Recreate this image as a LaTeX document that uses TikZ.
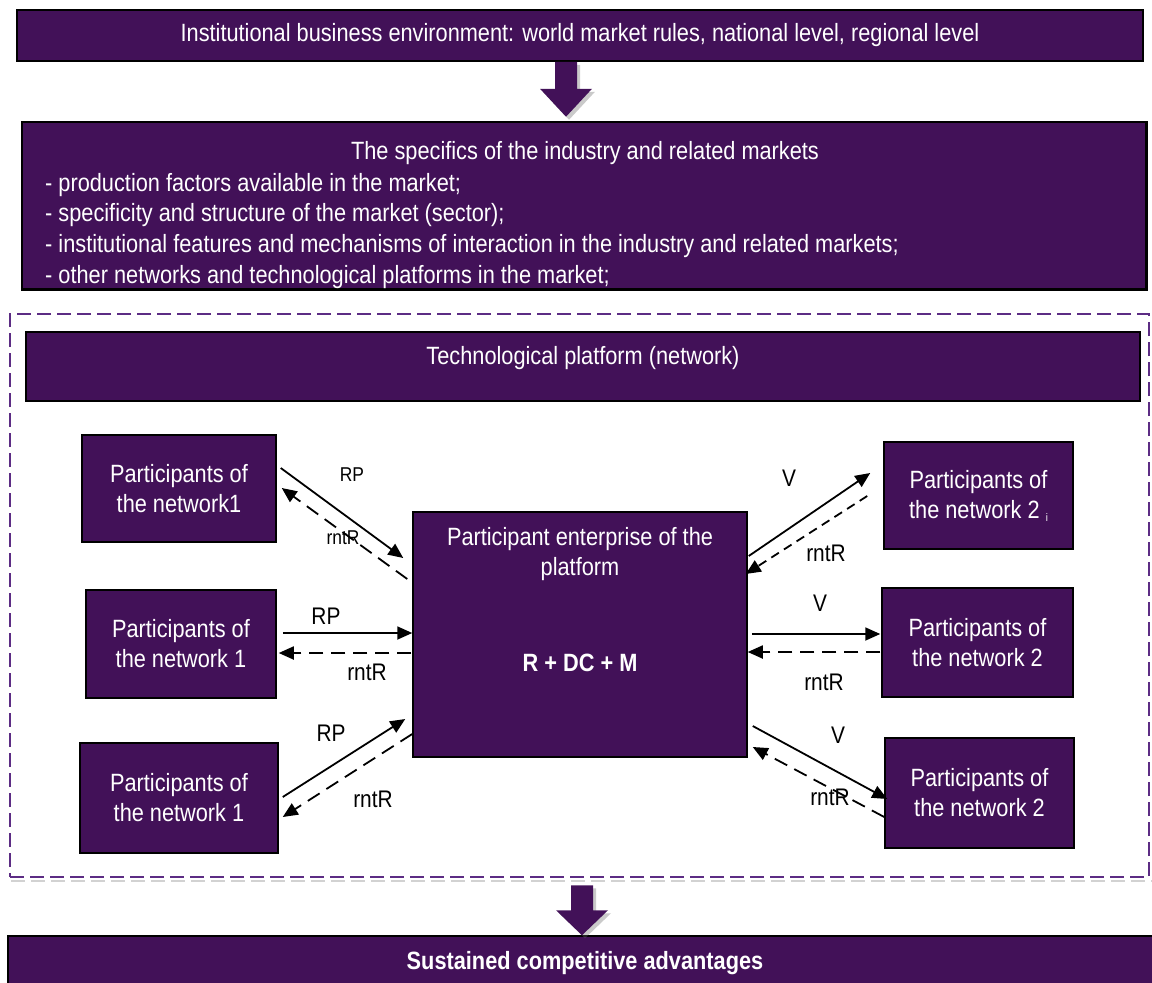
\documentclass[tikz,border=0pt]{standalone}
\usepackage{fontspec}
\setmainfont{Liberation Sans}[FakeStretch=0.87]
\usetikzlibrary{arrows.meta,calc,shadows}
\definecolor{purp}{RGB}{66,17,88}
\definecolor{dashpurp}{RGB}{92,44,132}
\newcommand\mainsz{\fontsize{25}{30}\selectfont}
\newcommand\lblsz{\fontsize{24}{28}\selectfont}
\newcommand\smlsz{\fontsize{20}{24}\selectfont}
\begin{document}
\begin{tikzpicture}[x=1pt,y=-1pt,
  box/.style={draw=black, line width=1.5pt, fill=purp, text=white, inner sep=0pt, align=center, font=\mainsz},
  txt/.style={text=white, inner sep=0pt, font=\mainsz, align=center},
  lbl/.style={text=black, inner sep=0pt, font=\lblsz},
  slbl/.style={text=black, inner sep=0pt, font=\smlsz},
  solidarr/.style={line width=1.8pt, -{Triangle[length=15pt,width=13pt]}},
  dasharr/.style={line width=1.8pt, dash pattern=on 14pt off 8pt, -{Triangle[length=15pt,width=13pt]}},
  shortdash/.style={line width=1.8pt, dash pattern=on 9pt off 6pt, -{Triangle[length=15pt,width=13pt]}},
  frame/.style={draw=dashpurp, line width=1.6pt, dash pattern=on 14pt off 6pt, inner sep=0pt},
  blockarrow/.style={fill=purp, drop shadow={shadow xshift=3pt, shadow yshift=-3pt, opacity=0.35, fill=black!60}}
]
\useasboundingbox (0,0) rectangle (1152,983);

% top box
\node[box, minimum width=1126pt, minimum height=51pt] (top) at (580,35.5)
  {Institutional business environment: world market rules, national level, regional level};

% specifics box
\node[box, minimum width=1124pt, minimum height=167pt] (spec) at (584,205.5) {};
\begin{scope}
\clip (spec.south west) rectangle (spec.north east);
\node[txt, anchor=base] (spectitle) at (585,159) {The specifics of the industry and related markets};
\node[txt, anchor=base west] (b1) at (45,191) {- production factors available in the market;};
\node[txt, anchor=base west] (b2) at (45,221.5) {- specificity and structure of the market (sector);};
\node[txt, anchor=base west] (b3) at (45,252) {- institutional features and mechanisms of interaction in the industry and related markets;};
\node[txt, anchor=base west] (b4) at (45,283) {- other networks and technological platforms in the market;};
\end{scope}
\draw[line width=1.5pt] (spec.south west) rectangle (spec.north east);

% block arrow 1
\path[blockarrow] ($(top.south)+(-25,0)$) -- ++(22,0) -- ++(0,27) -- ++(15,0) -- ++(-26,28) -- ++(-26,-28) -- ++(15,0) -- cycle;

% dashed frame
\node[frame, minimum width=1139pt, minimum height=563pt] (frame) at (579.5,595.5) {};
\draw[black!35, line width=2.5pt, opacity=0.5, dash pattern=on 14pt off 6pt]
  ($(frame.south west)+(2,3)$) -- ($(frame.south east)+(2,3)$);

% technological platform
\node[box, minimum width=1114pt, minimum height=69pt] (tech) at (583,366.5) {};
\node[txt] (techtxt) at (583,358) {Technological platform (network)};

% left boxes
\node[box, minimum width=194pt, minimum height=107pt] (L1) at (179,488.5) {Participants of\\the network1};
\node[box, minimum width=190pt, minimum height=108pt] (L2) at (181,644) {Participants of\\the network 1};
\node[box, minimum width=198pt, minimum height=110pt] (L3) at (179,798) {Participants of\\the network 1};

% center
\node[box, minimum width=334pt, minimum height=245pt] (C) at (580,634.5) {};
\node[txt] (Ctxt) at (580,554) {Participant enterprise of the\\platform};
\node[txt, font=\mainsz\bfseries] (Cform) at (580,663) {R + DC + M};

% right boxes
\node[box, minimum width=189pt, minimum height=107pt] (R1) at (978.5,495.5) {Participants of\\the network 2 \raisebox{-3pt}{\fontsize{11}{11}\selectfont i}};
\node[box, minimum width=191pt, minimum height=109pt] (R2) at (977.5,642.5) {Participants of\\the network 2};
\node[box, minimum width=189pt, minimum height=110pt] (R3) at (979.5,793) {Participants of\\the network 2};

% bottom
\node[box, minimum width=1154pt, minimum height=64pt] (bottom) at (585,968) {};
\node[txt, font=\mainsz\bfseries] (btxt) at (585,963) {Sustained competitive advantages};

% block arrow 2
\path[blockarrow] ($(bottom.north)+(-14,-50)$) -- ++(22,0) -- ++(0,25) -- ++(15,0) -- ++(-26,25) -- ++(-26,-25) -- ++(15,0) -- cycle;

% connectors left
\draw[solidarr] ($(L1.east)+(4,-20.5)$) -- ($(C.west)+(-9,-76.5)$);
\draw[dasharr] ($(C.west)+(-5,-55.5)$) -- ($(L1.east)+(5,-0.5)$);
\draw[solidarr] ($(L2.east)+(6,-11)$) -- ($(C.west)+(0,-1.5)$);
\draw[dasharr] ($(C.west)+(-1,18.5)$) -- ($(L2.east)+(2,9)$);
\draw[solidarr] ($(L3.east)+(4,-1)$) -- ($(C.west)+(-7,84.5)$);
\draw[dasharr] ($(C.west)+(0,99.5)$) -- ($(L3.east)+(4,19)$);
% connectors right
\draw[solidarr] ($(C.east)+(1,-78.5)$) -- ($(R1.west)+(-13,-22.5)$);
\draw[shortdash] ($(R1.west)+(-16,0.5)$) -- ($(C.east)+(-2,-60.5)$);
\draw[solidarr] ($(C.east)+(4,-0.5)$) -- ($(R2.west)+(-1,-8.5)$);
\draw[dasharr] ($(R2.west)+(-1,9.5)$) -- ($(C.east)+(0,17.5)$);
\draw[solidarr] ($(C.east)+(5,91.5)$) -- ($(R3.west)+(3,6)$);
\draw[dasharr] ($(R3.west)+(0,24)$) -- ($(C.east)+(5,112.5)$);

% labels
\node[slbl] (rp1) at (352,475) {RP};
\node[slbl] (rn1) at (343,538) {rntR};
\node[lbl] (rp2) at (326,616) {RP};
\node[lbl] (rn2) at (367,672) {rntR};
\node[lbl] (rp3) at (331,733) {RP};
\node[lbl] (rn3) at (373,799) {rntR};
\node[lbl] (v1) at (789,478) {V};
\node[lbl] (rn4) at (826,553) {rntR};
\node[lbl] (v2) at (820,603) {V};
\node[lbl] (rn5) at (824,682) {rntR};
\node[lbl] (v3) at (838,735) {V};
\node[lbl] (rn6) at (830,797) {rntR};
\end{tikzpicture}
\end{document}
